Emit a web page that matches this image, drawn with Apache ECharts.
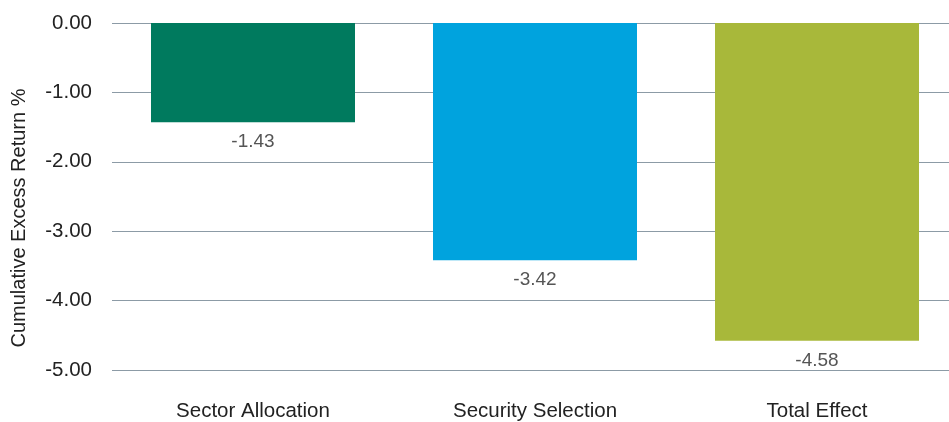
<!DOCTYPE html>
<html><head><meta charset="utf-8">
<script src="https://cdn.jsdelivr.net/npm/echarts@6/dist/echarts.min.js"></script>
<style>html,body{margin:0;padding:0;background:#fff}#c{width:949px;height:422px}</style>
</head><body><div id="c"></div>
<script>
const categories = ['Sector Allocation', 'Security Selection', 'Total Effect'];
const values = [-1.43, -3.42, -4.58];
const yTicks = [0, -1, -2, -3, -4, -5];
const barColors = ['#007A5E', '#00A3DE', '#A8B83A'];
const F = 'Liberation Sans, Arial, sans-serif';
const chart = echarts.init(document.getElementById('c'));
chart.setOption({
  animation: false,
  grid: {left: 112, right: -9, top: 23, bottom: 52, outerBoundsMode: 'none', containLabel: false},
  xAxis: {
    type: 'category', data: categories, position: 'bottom',
    axisLine: {show: false}, axisTick: {show: false},
    axisLabel: {color: '#222', fontSize: 20.5, fontFamily: F, margin: 31}
  },
  yAxis: {
    type: 'value', min: Math.min(...yTicks), max: Math.max(...yTicks), interval: 1,
    name: 'Cumulative Excess Return %', nameLocation: 'middle', nameGap: 83,
    nameTextStyle: {color: '#222', fontSize: 20, fontFamily: F, padding: [0, 43, 0, 0]},
    axisLabel: {color: '#222', fontSize: 20.5, fontFamily: F, margin: 20,
      formatter: v => v.toFixed(2)},
    splitLine: {lineStyle: {color: '#8C9BA6', width: 1}},
    axisLine: {show: false}, axisTick: {show: false}
  },
  series: [{
    type: 'bar', barWidth: 204,
    data: values.map((v, i) => ({value: v, itemStyle: {color: barColors[i]}})),
    label: {show: true, position: 'bottom', distance: 10, color: '#555', fontSize: 19,
      fontFamily: F, formatter: p => p.value.toFixed(2)}
  }]
});
</script></body></html>
